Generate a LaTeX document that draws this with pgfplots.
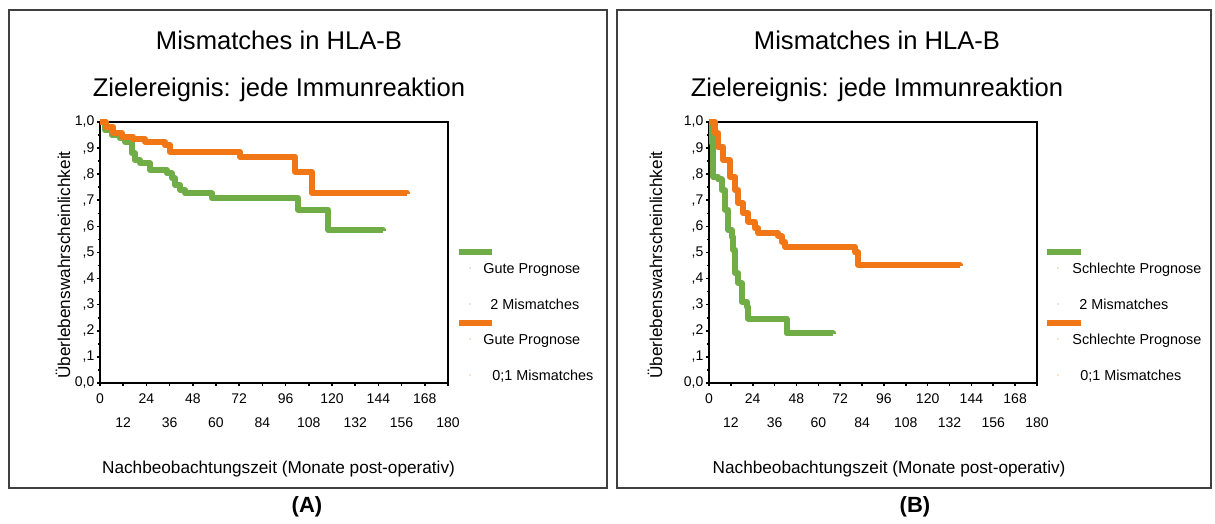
\documentclass[border=0pt]{standalone}
\usepackage{fontspec}
\setmainfont{Liberation Sans}
\usepackage{pgfplots}
\pgfplotsset{compat=1.18}

\definecolor{kmgreen}{RGB}{112,173,71}
\definecolor{kmorange}{RGB}{240,118,22}
\definecolor{boxgray}{RGB}{64,64,64}

\newcommand{\legfont}{\fontsize{7.2}{8.5}\selectfont}

\pgfplotsset{
  kmaxis/.style={
    scale only axis,
    height=130.5pt,
    xmin=0, xmax=180, ymin=0, ymax=1,
    clip=false,
    axis line style={line width=0.8pt},
    tick style={black, line width=0.8pt},
    tick align=outside,
    major tick length=1.6pt, minor tick length=1.1pt,
    xtick pos=left, ytick pos=left,
    xtick={0,24,...,168},
    extra x ticks={12,36,...,180},
    extra x tick style={xticklabel style={yshift=-12pt}},
    ytick={0,0.1,0.2,0.3,0.4,0.5,0.6,0.7,0.8,0.9,1},
    yticklabels={{0,0},{,1},{,2},{,3},{,4},{,5},{,6},{,7},{,8},{,9},{1,0}},
    minor y tick num=1,
    /pgf/number format/assume math mode=true,
    tick label style={font=\fontsize{7}{8}\selectfont},
    xticklabel style={anchor=north, inner sep=0pt, yshift=-3.5pt},
    yticklabel style={anchor=east, inner sep=0pt, xshift=-1pt},
    xlabel={Nachbeobachtungszeit (Monate post-operativ)},
    ylabel={Überlebenswahrscheinlichkeit},
    label style={font=\fontsize{8.6}{10}\selectfont},
    every axis plot/.append style={const plot, line width=3pt, line join=round},
  }
}

\begin{document}
\begin{tikzpicture}

% ---------- panel A: gute Prognose ----------
\begin{axis}[kmaxis, width=174pt, at={(50pt,70.5pt)}, anchor=south west,
  xlabel style={at={(axis description cs:0.513,-0.345)}, anchor=base},
  ylabel style={at={(axis description cs:-0.106,0.452)}, anchor=center, rotate=0}]
% 2 Mismatches
\addplot[kmgreen] coordinates {
  (0,1.0) (2.6,0.969) (6,0.95) (10.3,0.937) (12.9,0.925) (16.4,0.88)
  (18,0.854) (20.7,0.842) (25.9,0.816) (34.5,0.803) (37.1,0.785)
  (38.8,0.759) (41.4,0.740) (44,0.727) (57.8,0.708) (102.6,0.663)
  (118.1,0.586) (146.6,0.583)};
% 0;1 Mismatches
\addplot[kmorange] coordinates {
  (0,1.0) (3,0.98) (6.9,0.957) (11.2,0.944) (17.2,0.934) (23.3,0.925)
  (33.6,0.912) (36.2,0.886) (72.4,0.867) (100.9,0.810) (109.5,0.729)
  (158.6,0.727)};
\end{axis}

% ---------- panel B: schlechte Prognose ----------
\begin{axis}[kmaxis, width=164pt, at={(354.5pt,70.5pt)}, anchor=south west,
  xlabel style={at={(axis description cs:0.549,-0.345)}, anchor=base},
  ylabel style={at={(axis description cs:-0.165,0.452)}, anchor=center, rotate=0}]
\addplot[kmgreen] coordinates {
  (0,1.0) (1.5,0.92) (2.4,0.79) (5.1,0.78) (6.9,0.739) (8.8,0.663)
  (10.6,0.586) (12.4,0.561) (13.3,0.510) (14.3,0.421) (16.1,0.383)
  (17.9,0.312) (20.7,0.293) (21.6,0.247) (42.6,0.190) (68.2,0.187)};
\addplot[kmorange] coordinates {
  (0,1.0) (3.3,0.957) (5.1,0.905) (7.9,0.854) (11.5,0.79) (14.3,0.739)
  (16.1,0.688) (18.8,0.650) (21.6,0.618) (25.2,0.592) (27.1,0.573)
  (38.1,0.563) (39.9,0.541) (41.7,0.522) (80.1,0.500) (82,0.452)
  (137.8,0.448)};
\end{axis}

% ---------- frames, titles, legends (image pixel coordinates) ----------
\begin{scope}[x=0.5pt, y=-0.5pt, yshift=262pt]
  \draw[boxgray, line width=0.75pt] (9,10) rectangle (607,488);
  \draw[boxgray, line width=0.75pt] (617,10) rectangle (1211,488);

  \foreach \cx in {279,877} {
    \node[anchor=base, font=\fontsize{12.8}{15}\selectfont] at (\cx,50) {Mismatches in HLA-B};
    \node[anchor=base, font=\fontsize{12.8}{15}\selectfont] at (\cx,97) {Zielereignis: jede Immunreaktion};
  }

  \node[anchor=base, font=\fontsize{11}{13}\selectfont\bfseries] at (307,513) {(A)};
  \node[anchor=base, font=\fontsize{11}{13}\selectfont\bfseries] at (915,513) {(B)};

  % legend A
  \draw[kmgreen, line width=3pt] (459,252) -- (492,252);
  \draw[kmorange, line width=3pt] (459,323) -- (492,323);
  \fill[kmgreen] (470,268) circle (0.6) (470,304) circle (0.6);
  \fill[kmorange] (470,339) circle (0.6) (470,375) circle (0.6);
  \node[anchor=base west, inner sep=0pt, font=\legfont] at (483,274) {Gute Prognose};
  \node[anchor=base west, inner sep=0pt, font=\legfont] at (490,310) {2 Mismatches};
  \node[anchor=base west, inner sep=0pt, font=\legfont] at (483,345) {Gute Prognose};
  \node[anchor=base west, inner sep=0pt, font=\legfont] at (492,381) {0;1 Mismatches};

  % legend B
  \draw[kmgreen, line width=3pt] (1047,252) -- (1081,252);
  \draw[kmorange, line width=3pt] (1047,323) -- (1081,323);
  \fill[kmgreen] (1058,268) circle (0.6) (1058,304) circle (0.6);
  \fill[kmorange] (1058,339) circle (0.6) (1058,375) circle (0.6);
  \node[anchor=base west, inner sep=0pt, font=\legfont] at (1072,274) {Schlechte Prognose};
  \node[anchor=base west, inner sep=0pt, font=\legfont] at (1079,310) {2 Mismatches};
  \node[anchor=base west, inner sep=0pt, font=\legfont] at (1072,345) {Schlechte Prognose};
  \node[anchor=base west, inner sep=0pt, font=\legfont] at (1080,381) {0;1 Mismatches};
\end{scope}

\pgfresetboundingbox
\useasboundingbox (0,0) rectangle (607.5pt,262pt);
\end{tikzpicture}
\end{document}
